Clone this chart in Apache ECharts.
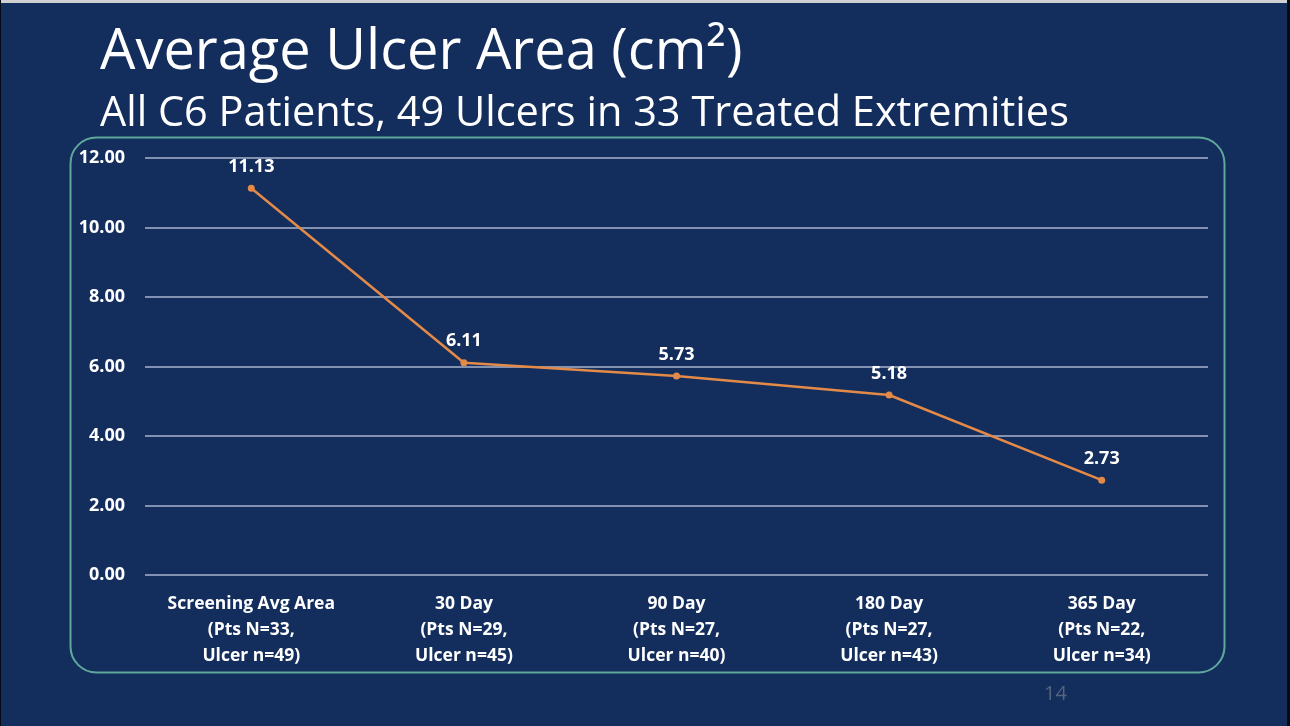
<!DOCTYPE html>
<html><head><meta charset="utf-8">
<script src="https://cdn.jsdelivr.net/npm/echarts@6/dist/echarts.min.js"></script>
<style>
html,body{margin:0;padding:0;background:#132d5d;}
#c{width:1290px;height:726px;}
</style></head>
<body><div id="c"></div>
<script>
const categories = [
  "Screening Avg Area\n(Pts N=33,\nUlcer n=49)",
  "30 Day\n(Pts N=29,\nUlcer n=45)",
  "90 Day\n(Pts N=27,\nUlcer n=40)",
  "180 Day\n(Pts N=27,\nUlcer n=43)",
  "365 Day\n(Pts N=22,\nUlcer n=34)"
];
const avgArea = [11.13, 6.11, 5.73, 5.18, 2.73];
const yTicks = { min: 0, max: 12, interval: 2 };

const chart = echarts.init(document.getElementById('c'), null, {renderer: 'canvas'});
chart.setOption({
  backgroundColor: '#132d5d',
  animation: false,
  title: [
    { text: 'Average Ulcer Area (cm²)', left: 95, top: 20,
      textStyle: { color: '#ffffff', fontFamily: 'Open Sans', fontWeight: 'normal', fontSize: 56 } },
    { text: 'All C6 Patients, 49 Ulcers in 33 Treated Extremities', left: 95, top: 88,
      textStyle: { color: '#ffffff', fontFamily: 'Open Sans', fontWeight: 'normal', fontSize: 41.5 } }
  ],
  graphic: [
    { type: 'rect', left: 0, top: 0, shape: { width: 1290, height: 3 }, style: { fill: '#d0d0d0' }, silent: true },
    { type: 'rect', left: 0, top: 0, shape: { width: 1, height: 726 }, style: { fill: '#050a14' }, silent: true },
    { type: 'rect', left: 1287, top: 0, shape: { width: 3, height: 726 }, style: { fill: '#050a14' }, silent: true },
    { type: 'rect', left: 68, top: 135, shape: { width: 1154, height: 535, r: 26 },
      style: { fill: 'none', stroke: '#5fa89c', lineWidth: 2 }, silent: true, z: -1 },
    { type: 'text', left: 1044, top: 684, style: { text: '14', fill: '#56657f', font: '20px "Open Sans"' }, silent: true }
  ],
  grid: { left: 145, right: 82, top: 158, bottom: 151, containLabel: false },
  xAxis: {
    type: 'category', data: categories, boundaryGap: true,
    axisLine: { show: false }, axisTick: { show: false },
    axisLabel: { color: '#ffffff', fontFamily: 'Open Sans', fontWeight: 'bold', fontSize: 17.5, lineHeight: 26, margin: 16, interval: 0 }
  },
  yAxis: {
    type: 'value', min: yTicks.min, max: yTicks.max, interval: yTicks.interval,
    axisLine: { show: false }, axisTick: { show: false },
    axisLabel: { color: '#ffffff', fontFamily: 'Open Sans', fontWeight: 'bold', fontSize: 18, margin: 20,
      formatter: v => v.toFixed(2) },
    splitLine: { lineStyle: { color: '#a9b4cc', width: 1.5 } }
  },
  series: [{
    type: 'line', data: avgArea,
    lineStyle: { color: '#e38a48', width: 2.5 },
    itemStyle: { color: '#e38a48' },
    symbol: 'circle', symbolSize: 7,
    label: { show: true, position: 'top', distance: 9, color: '#ffffff', fontFamily: 'Open Sans',
      fontWeight: 'bold', fontSize: 18, formatter: p => p.value.toFixed(2) }
  }]
});
</script></body></html>
